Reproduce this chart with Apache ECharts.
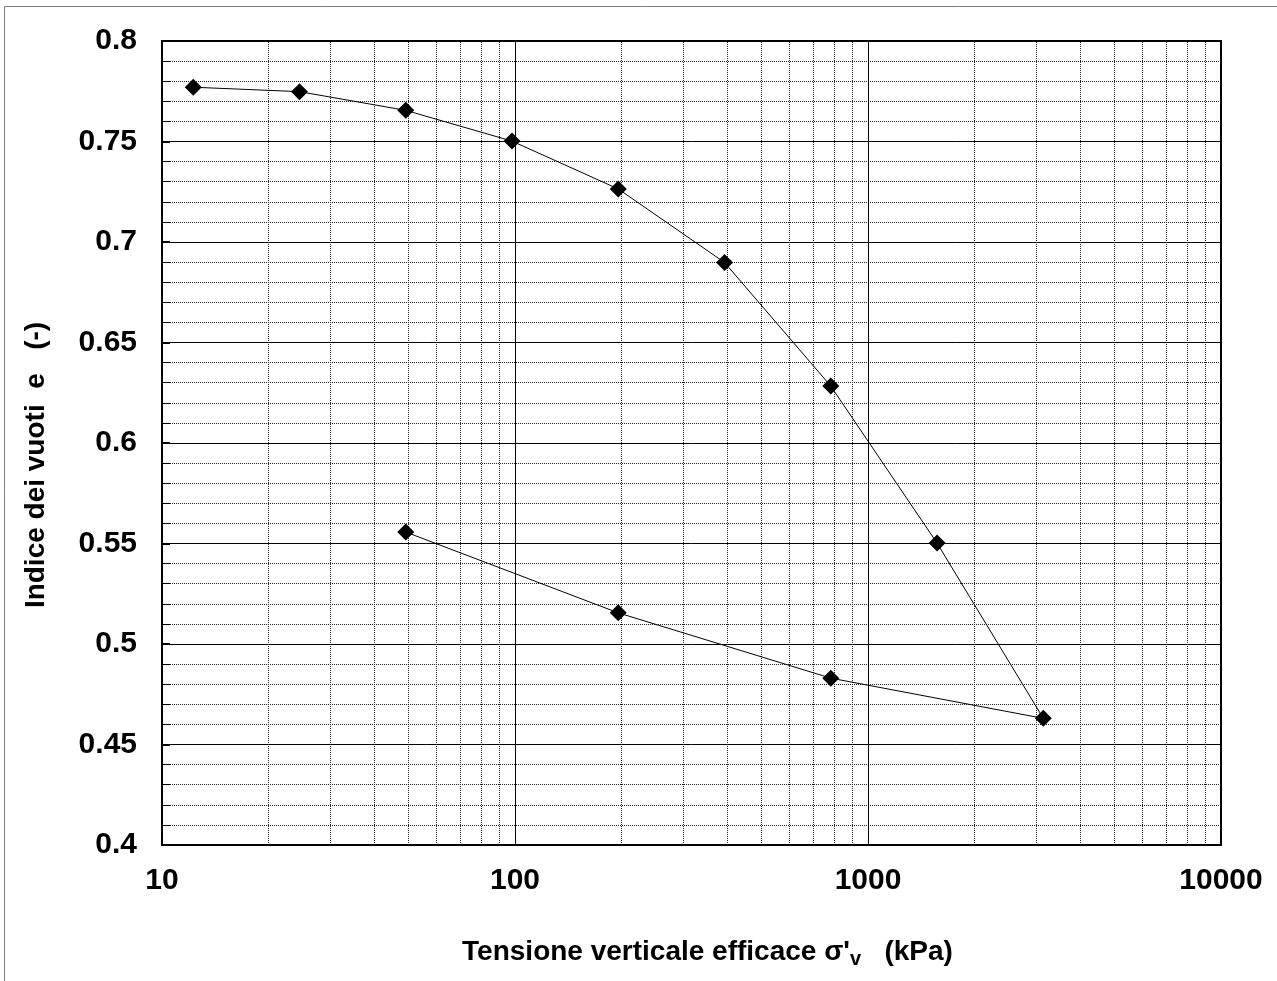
<!DOCTYPE html>
<html>
<head>
<meta charset="utf-8">
<script src="https://cdn.jsdelivr.net/npm/echarts@6/dist/echarts.min.js"></script>
<style>
html,body{margin:0;padding:0;background:#fff;}
#c{width:1277px;height:981px;}
</style>
</head>
<body>
<div id="c"></div>
<script>
// Effective vertical stress (kPa) and void ratio, loading then unloading
var stress = [12.26, 24.52, 49.03, 98.07, 196.1, 392.3, 784.5, 1569, 3138, 784.5, 196.1, 49.03];
var voidRatio = [0.777, 0.7748, 0.7655, 0.7502, 0.7264, 0.6898, 0.6283, 0.5502, 0.4630, 0.4830, 0.5155, 0.5557];
var xTickLabels = ['10', '100', '1000', '10000'];
var yTickValues = [0.4, 0.45, 0.5, 0.55, 0.6, 0.65, 0.7, 0.75, 0.8];

var FONT = '"Liberation Sans", Arial, sans-serif';

var pts = stress.map(function (s, i) { return [s, voidRatio[i]]; });

// vertical minor grid lines at 2..9 x each decade
var minorX = [];
[10, 100, 1000].forEach(function (d) {
  for (var k = 2; k <= 9; k++) minorX.push({ xAxis: k * d });
});

var chart = echarts.init(document.getElementById('c'), null, { renderer: 'canvas' });
chart.setOption({
  animation: false,
  backgroundColor: '#fff',
  graphic: [{
    type: 'rect', silent: true,
    shape: { x: 4.5, y: 6.5, width: 1400, height: 1100 },
    style: { fill: null, stroke: '#7f7f7f', lineWidth: 1 }
  }],
  grid: {
    left: 162, right: 56, top: 41, bottom: 136,
    show: true, borderColor: '#000', borderWidth: 2, backgroundColor: 'transparent'
  },
  xAxis: {
    type: 'log', logBase: 10, min: 10, max: 10000,
    name: 'Tensione verticale efficace σ\'{sub|v}   (kPa)',
    nameLocation: 'middle', nameGap: 90,
    nameTextStyle: {
      fontFamily: FONT, fontWeight: 'bold', fontSize: 28, color: '#000',
      padding: [0, 0, 0, 32],
      rich: {
        sub: { fontFamily: FONT, fontWeight: 'bold', fontSize: 20, color: '#000', padding: [14, 0, 0, 0], verticalAlign: 'bottom' }
      }
    },
    axisLine: { show: true, lineStyle: { color: '#000', width: 2 } },
    axisTick: { show: false },
    axisLabel: {
      margin: 21, fontFamily: FONT, fontWeight: 'bold', fontSize: 30, color: '#000',
      formatter: function (v) {
        var s = String(Math.round(v));
        return xTickLabels.indexOf(s) >= 0 ? s : '';
      }
    },
    splitLine: { show: true, lineStyle: { color: '#000', width: 1 } },
    minorTick: { show: false },
    minorSplitLine: { show: false }
  },
  yAxis: {
    type: 'value', min: 0.4, max: 0.8, interval: 0.05,
    name: 'Indice dei vuoti  e   (-)',
    nameLocation: 'middle', nameGap: 112,
    nameTextStyle: { fontFamily: FONT, fontWeight: 'bold', fontSize: 28, color: '#000', padding: [0, 44, 0, 0] },
    axisLine: { show: true, lineStyle: { color: '#000', width: 2 } },
    axisTick: { show: true, inside: true, length: 8, lineStyle: { color: '#000', width: 2 } },
    minorTick: { show: true, splitNumber: 5, length: 8, lineStyle: { color: '#000', width: 1 } },
    axisLabel: {
      margin: 25, fontFamily: FONT, fontWeight: 'bold', fontSize: 30, color: '#000',
      formatter: function (v) {
        var r = Math.round(v * 100) / 100;
        return yTickValues.indexOf(r) >= 0 ? String(r) : '';
      }
    },
    splitLine: { show: true, lineStyle: { color: '#000', width: 1 } },
    minorSplitLine: { show: true, lineStyle: { color: '#222', width: 1, type: 'dotted' } }
  },
  series: [{
    type: 'line',
    data: pts,
    symbol: 'diamond', symbolSize: 17,
    itemStyle: { color: '#000' },
    lineStyle: { color: '#000', width: 1 },
    z: 5,
    markLine: {
      silent: true, symbol: 'none',
      label: { show: false },
      lineStyle: { color: '#222', width: 1, type: 'dotted' },
      data: minorX,
      z: 1
    }
  }]
});
</script>
</body>
</html>
